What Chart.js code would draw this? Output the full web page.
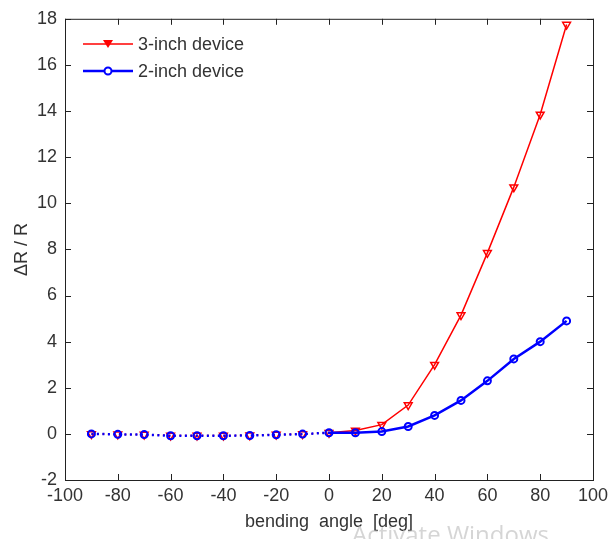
<!DOCTYPE html>
<html><head><meta charset="utf-8">
<script src="https://cdn.jsdelivr.net/npm/chart.js@4"></script>
<style>html,body{margin:0;padding:0;background:#fff}#wrap{width:608px;height:539px}</style>
</head><body><div id="wrap"><canvas id="c" width="608" height="539"></canvas></div>
<script>
const angles = [-90,-80,-70,-60,-50,-40,-30,-20,-10,0,10,20,30,40,50,60,70,80,90];
const threeInch = [0.0,-0.02,-0.03,-0.07,-0.07,-0.07,-0.06,-0.03,-0.01,0.05,0.15,0.4,1.25,3.0,5.15,7.85,10.7,13.85,17.75];
const twoInch = [0.0,-0.02,-0.03,-0.08,-0.08,-0.08,-0.07,-0.04,-0.01,0.05,0.05,0.1,0.32,0.8,1.45,2.3,3.25,4.0,4.9];
const xTicks = [-100,-80,-60,-40,-20,0,20,40,60,80,100];
const yTicks = [-2,0,2,4,6,8,10,12,14,16,18];
const seriesNames = ['3-inch device','2-inch device'];

const FONT = '"Liberation Sans", Arial, sans-serif';
const TXT = '#333';
const FS = 18;

function pts(arr){ return angles.map((a,i)=>({x:a,y:arr[i]})); }
const dashSeg = (ctx)=> ctx.p0.parsed.x < 0 ? [2,3.5] : undefined;

const framePlugin = {
  id:'frame',
  afterDraw(chart){
    const {ctx, chartArea:a, scales:{x,y}} = chart;
    ctx.save();
    ctx.strokeStyle = '#222'; ctx.lineWidth = 1;
    ctx.strokeRect(a.left+0.5, a.top+0.5, a.right-a.left, a.bottom-a.top);
    const L = 6;
    ctx.beginPath();
    xTicks.forEach(v=>{ const px = Math.round(x.getPixelForValue(v))+0.5;
      ctx.moveTo(px,a.bottom); ctx.lineTo(px,a.bottom-L);
      ctx.moveTo(px,a.top); ctx.lineTo(px,a.top+L); });
    yTicks.forEach(v=>{ const py = Math.round(y.getPixelForValue(v))+0.5;
      ctx.moveTo(a.left,py); ctx.lineTo(a.left+L,py);
      ctx.moveTo(a.right,py); ctx.lineTo(a.right-L,py); });
    ctx.stroke();
    // legend
    const items = [
      {name:seriesNames[0], color:'#ff0000', lw:1.5, style:'tri', y:44},
      {name:seriesNames[1], color:'#0000ff', lw:2.5, style:'circ', y:71}
    ];
    items.forEach(it=>{
      ctx.strokeStyle = it.color; ctx.lineWidth = it.lw;
      ctx.beginPath(); ctx.moveTo(83,it.y); ctx.lineTo(133,it.y); ctx.stroke();
      ctx.lineWidth = 2;
      ctx.beginPath();
      if(it.style==='tri'){ ctx.moveTo(103,it.y-4); ctx.lineTo(113,it.y-4); ctx.lineTo(108,it.y+4); ctx.closePath(); ctx.fillStyle=it.color; ctx.fill(); }
      else { ctx.arc(108,it.y,3.5,0,Math.PI*2); ctx.fillStyle='#fff'; ctx.fill(); ctx.stroke(); }
      ctx.fillStyle = TXT; ctx.font = FS+'px '+FONT; ctx.textBaseline='middle'; ctx.textAlign='left';
      ctx.fillText(it.name, 138, it.y+1);
    });
    // faint watermark
    ctx.fillStyle = 'rgba(185,185,185,0.6)'; ctx.font = '24px "Open Sans", sans-serif';
    ctx.textBaseline='top'; ctx.fillText('Activate Windows', 352, 524);
    ctx.restore();
  }
};

new Chart(document.getElementById('c'), {
  type:'line',
  data:{ datasets:[
    { label:seriesNames[0], data:pts(threeInch), borderColor:'#ff0000', borderWidth:1.5, order:2,
      pointStyle:'triangle', rotation:180, pointRadius:4.5, pointBorderWidth:1.5,
      pointBackgroundColor:'rgba(255,255,255,0)', pointBorderColor:'#ff0000',
      segment:{borderDash:dashSeg}, tension:0 },
    { label:seriesNames[1], data:pts(twoInch), borderColor:'#0000ff', borderWidth:2.5, order:1,
      pointStyle:'circle', pointRadius:3.5, pointBorderWidth:2,
      pointBackgroundColor:'rgba(255,255,255,0)', pointBorderColor:'#0000ff',
      segment:{borderDash:dashSeg}, tension:0 }
  ]},
  options:{
    responsive:false, animation:false,
    layout:{padding:{top:18,right:15,left:0,bottom:0}},
    plugins:{legend:{display:false}, tooltip:{enabled:false}},
    scales:{
      x:{ type:'linear', min:-100, max:100,
        afterBuildTicks(s){ s.ticks = xTicks.map(v=>({value:v})); },
        afterFit(s){ s.height = 59; s.paddingRight = 0; s.paddingLeft = 0; },
        grid:{display:false, drawTicks:false}, border:{display:false},
        ticks:{ color:TXT, font:{family:FONT,size:FS}, padding:5, maxRotation:0, autoSkip:false },
        title:{display:true, text:'bending  angle  [deg]', color:TXT, font:{family:FONT,size:FS}, padding:{top:0,bottom:6}} },
      y:{ type:'linear', min:-2, max:18,
        afterBuildTicks(s){ s.ticks = yTicks.map(v=>({value:v})); },
        afterFit(s){ s.width = 65; },
        grid:{display:false, drawTicks:false}, border:{display:false},
        ticks:{ color:TXT, font:{family:FONT,size:FS}, padding:8, autoSkip:false },
        title:{display:true, text:'ΔR / R', color:TXT, font:{family:FONT,size:FS}, padding:{top:11,bottom:0}} }
    }
  },
  plugins:[framePlugin]
});
</script></body></html>
